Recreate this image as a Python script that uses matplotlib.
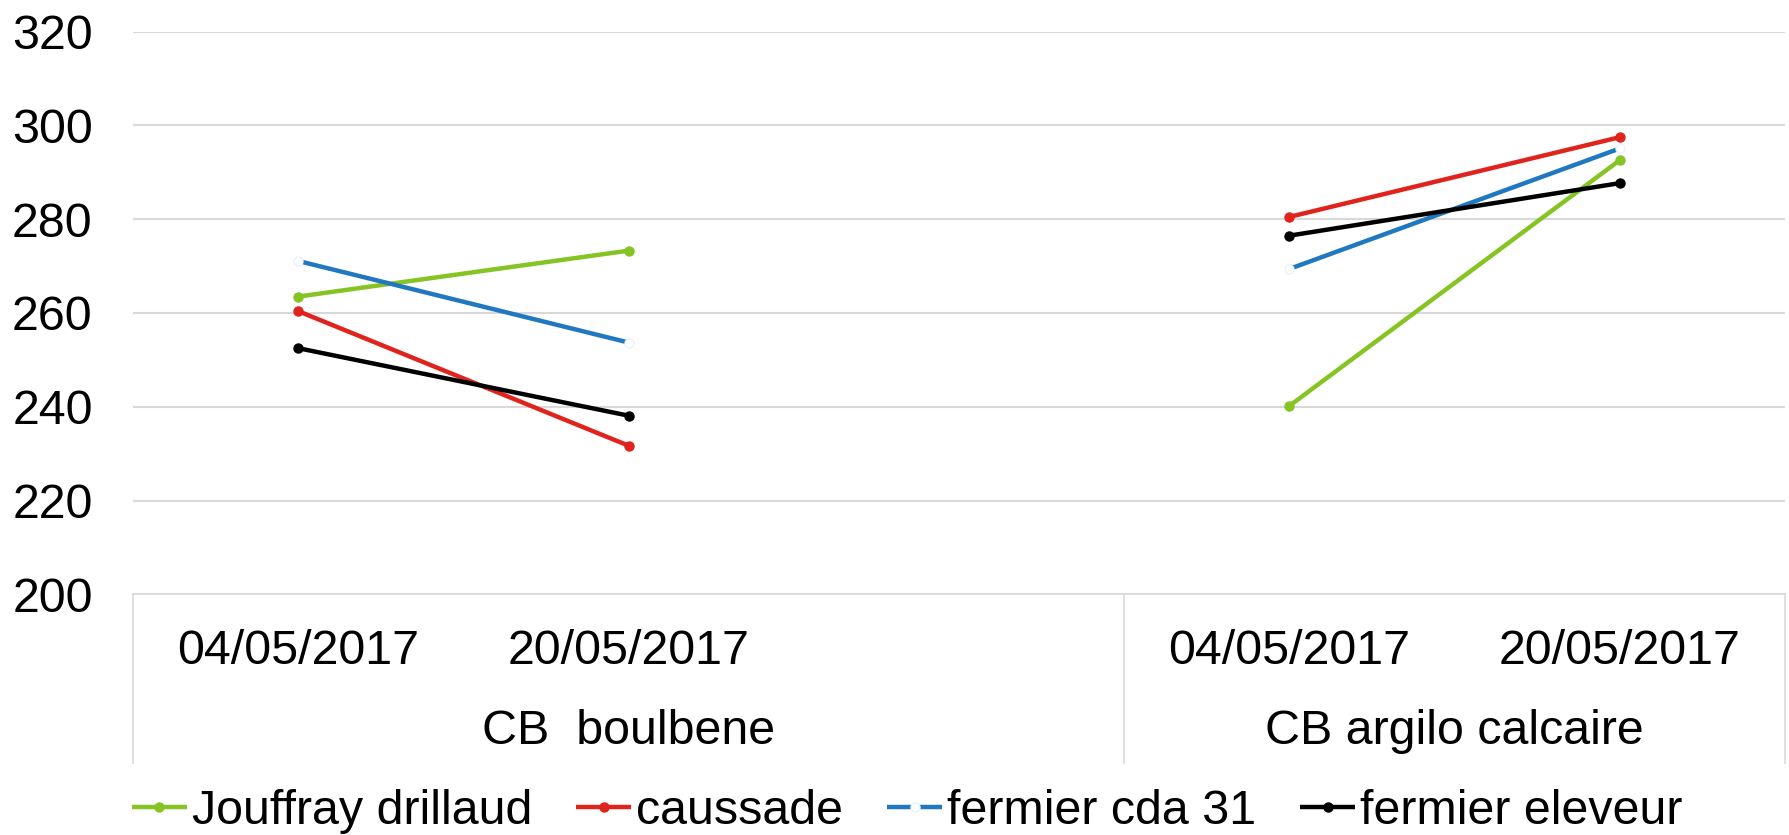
import matplotlib

matplotlib.use("Agg")
import matplotlib.pyplot as plt

plt.rcParams["font.family"] = ["Liberation Sans", "DejaVu Sans"]

# categories: group 1 has an empty third slot
dates = ["04/05/2017", "20/05/2017", "", "04/05/2017", "20/05/2017"]
groups = ["CB  boulbene", "CB argilo calcaire"]
group_sizes = [3, 2]

series_names = ["Jouffray drillaud", "caussade", "fermier cda 31", "fermier eleveur"]
jouffray = [263.5, 273.3, None, 240.2, 292.6]
caussade = [260.4, 231.7, None, 280.5, 297.5]
fermier_cda = [271.1, 253.7, None, 269.4, 295.1]
fermier_eleveur = [252.5, 238.1, None, 276.5, 287.7]
colors = ["#86C424", "#E0231C", "#1F78C0", "#000000"]

FS = 34.8
W, H = 1789, 835
fig = plt.figure(figsize=(W / 100, H / 100), dpi=100)
left, right, top, bottom = 133, 1785, 31.7, 594.3
ax = fig.add_axes([left / W, 1 - bottom / H, (right - left) / W, (bottom - top) / H])

ax.set_xlim(-0.5, len(dates) - 0.5)
ax.set_ylim(200, 320)
ax.set_yticks(range(200, 321, 20))
ax.tick_params(axis="y", length=0, labelsize=FS, pad=29)
ax.set_xticks([])
for s in ["top", "right", "left"]:
    ax.spines[s].set_visible(False)
ax.spines["bottom"].set_color("#D9D9D9")
ax.spines["bottom"].set_linewidth(1.2)
ax.grid(axis="y", color="#D9D9D9", linewidth=1.5)
ax.set_axisbelow(True)

all_series = [jouffray, caussade, fermier_cda, fermier_eleveur]
for name, vals, c in zip(series_names, all_series, colors):
    segs = [(0, 1), (3, 4)]
    for k, (i, j) in enumerate(segs):
        kw = dict(color=c, linewidth=3.2, marker="o", markersize=6.5,
                  solid_capstyle="butt")
        if name == "fermier cda 31":
            kw.update(markerfacecolor="white", markeredgecolor="#EAF3FB")
        ax.plot([i, j], [vals[i], vals[j]], label=name if k == 0 else None, **kw)

# category axis: dates, group labels and divider lines
xt = ax.get_xaxis_transform()
box_h = (763 - bottom) / (bottom - top)
for i, d in enumerate(dates):
    if d:
        ax.text(i, -(651 - bottom) / (bottom - top), d, transform=xt,
                ha="center", va="center", fontsize=FS)
start = -0.5
for g, n in zip(groups, group_sizes):
    ax.text(start + n / 2, -(731 - bottom) / (bottom - top), g, transform=xt,
            ha="center", va="center", fontsize=FS)
    start += n
edges = [-0.5]
for n in group_sizes:
    edges.append(edges[-1] + n)
for e in edges:
    ax.plot([e, e], [0, -box_h], transform=xt, color="#D9D9D9",
            linewidth=1.2, clip_on=False)

fig.legend(loc="center", bbox_to_anchor=(0.507, 1 - 811 / H), ncol=4,
           fontsize=FS, frameon=False, handlelength=1.15, handletextpad=0.1,
           columnspacing=0.9, borderaxespad=0)

fig.savefig("out.png", dpi=100)
